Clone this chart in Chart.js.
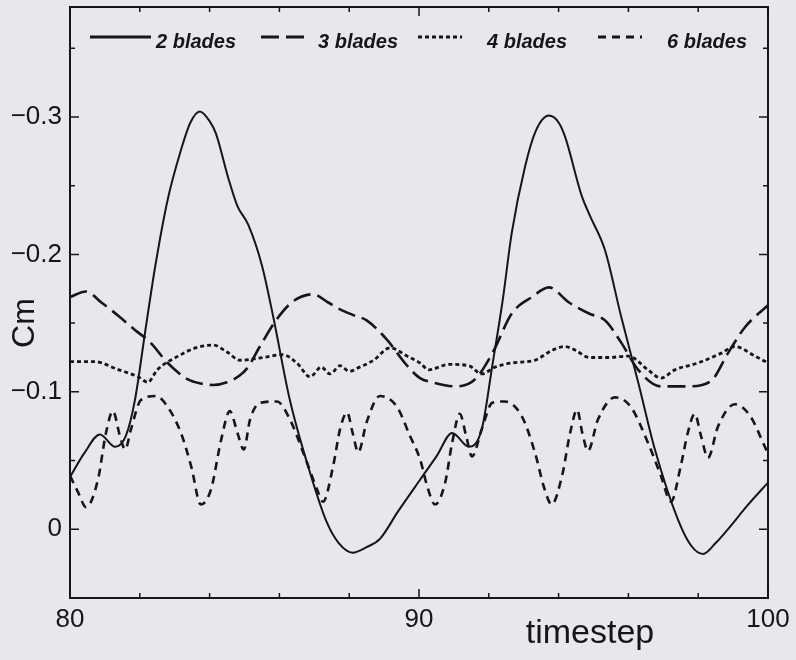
<!DOCTYPE html>
<html>
<head>
<meta charset="utf-8">
<script src="https://cdn.jsdelivr.net/npm/chart.js@4.4.1/dist/chart.umd.min.js"></script>
<style>
  html, body { margin: 0; padding: 0; background: #e6e8ec; }
  #wrap { width: 796px; height: 660px; position: relative; }
</style>
</head>
<body>
<div id="wrap"><canvas id="cmChart"></canvas></div>
<script>
// values (Cm vs timestep)
const seriesLabels = ['2 blades', '3 blades', '4 blades', '6 blades'];

const blades2X = [80.0, 80.4, 80.86, 81.29, 81.6, 81.86, 82.15, 82.44, 82.8, 83.18, 83.45, 83.72, 84.0, 84.18, 84.53, 84.8, 85.1, 85.5, 85.82, 86.3, 86.88, 87.36, 87.7, 88.1, 88.5, 88.88, 89.4, 90.03, 90.5, 90.95, 91.43, 91.8, 92.1, 92.4, 92.66, 93.04, 93.35, 93.72, 94.0, 94.18, 94.67, 94.9, 95.33, 95.79, 96.28, 96.76, 97.42, 97.8, 98.14, 98.5, 98.85, 99.4, 100.0];
const blades2Y = [-0.038, -0.055, -0.069, -0.060, -0.068, -0.094, -0.143, -0.191, -0.240, -0.276, -0.296, -0.304, -0.297, -0.288, -0.256, -0.235, -0.222, -0.192, -0.155, -0.094, -0.041, -0.005, 0.010, 0.017, 0.013, 0.007, -0.013, -0.036, -0.053, -0.070, -0.060, -0.073, -0.119, -0.167, -0.216, -0.264, -0.290, -0.301, -0.296, -0.286, -0.242, -0.228, -0.203, -0.155, -0.107, -0.058, -0.007, 0.012, 0.018, 0.010, 0.000, -0.017, -0.034];

const blades3X = [80.0, 80.46, 80.9, 81.4, 81.86, 82.3, 82.8, 83.38, 83.75, 84.1, 84.5, 84.87, 85.1, 85.44, 85.93, 86.4, 86.96, 87.4, 87.74, 88.1, 88.5, 89.08, 89.66, 90.03, 90.37, 91.03, 91.6, 92.1, 92.66, 93.24, 93.72, 94.3, 94.87, 95.33, 95.79, 96.28, 96.93, 97.7, 98.37, 98.85, 99.34, 100.0];
const blades3Y = [-0.169, -0.173, -0.165, -0.155, -0.145, -0.136, -0.121, -0.109, -0.106, -0.105, -0.107, -0.112, -0.118, -0.133, -0.153, -0.166, -0.171, -0.165, -0.160, -0.156, -0.152, -0.138, -0.119, -0.110, -0.107, -0.104, -0.109, -0.128, -0.157, -0.169, -0.176, -0.165, -0.157, -0.152, -0.136, -0.116, -0.104, -0.104, -0.108, -0.128, -0.147, -0.163];

const blades4X = [80.0, 80.7, 81.4, 81.95, 82.23, 82.5, 83.1, 83.6, 84.1, 84.5, 84.87, 85.53, 86.1, 86.5, 86.88, 87.2, 87.45, 87.74, 88.0, 88.3, 88.7, 89.17, 89.66, 90.03, 90.28, 90.86, 91.43, 91.8, 92.18, 92.66, 93.32, 93.8, 94.18, 94.5, 94.87, 95.42, 96.0, 96.56, 96.93, 97.33, 97.99, 98.65, 99.05, 99.63, 100.0];
const blades4Y = [-0.122, -0.122, -0.116, -0.111, -0.107, -0.116, -0.126, -0.132, -0.134, -0.129, -0.123, -0.125, -0.127, -0.121, -0.111, -0.118, -0.113, -0.119, -0.115, -0.118, -0.123, -0.132, -0.126, -0.121, -0.116, -0.120, -0.119, -0.113, -0.118, -0.121, -0.123, -0.130, -0.133, -0.130, -0.125, -0.125, -0.126, -0.116, -0.110, -0.116, -0.121, -0.128, -0.133, -0.126, -0.121];

const blades6X = [80.0, 80.23, 80.46, 80.8, 81.03, 81.23, 81.43, 81.58, 81.75, 82.03, 82.46, 82.8, 83.18, 83.47, 83.75, 84.04, 84.33, 84.58, 84.8, 84.98, 85.16, 85.44, 85.93, 86.3, 86.68, 87.08, 87.25, 87.54, 87.74, 87.94, 88.1, 88.26, 88.5, 88.88, 89.37, 89.74, 90.03, 90.25, 90.46, 90.75, 90.95, 91.17, 91.35, 91.52, 91.8, 92.1, 92.46, 92.95, 93.32, 93.6, 93.8, 94.1, 94.33, 94.53, 94.68, 94.84, 95.13, 95.62, 96.07, 96.56, 96.93, 97.22, 97.5, 97.7, 97.9, 98.08, 98.28, 98.57, 99.05, 99.5, 99.91, 100.0];
const blades6Y = [-0.039, -0.027, -0.016, -0.036, -0.070, -0.086, -0.068, -0.058, -0.073, -0.094, -0.097, -0.089, -0.070, -0.046, -0.018, -0.029, -0.065, -0.086, -0.070, -0.058, -0.080, -0.092, -0.093, -0.080, -0.056, -0.029, -0.020, -0.046, -0.073, -0.085, -0.070, -0.056, -0.078, -0.097, -0.089, -0.068, -0.051, -0.030, -0.018, -0.034, -0.063, -0.084, -0.068, -0.053, -0.073, -0.092, -0.093, -0.082, -0.056, -0.029, -0.018, -0.039, -0.070, -0.087, -0.070, -0.057, -0.080, -0.096, -0.089, -0.063, -0.039, -0.020, -0.046, -0.070, -0.084, -0.068, -0.052, -0.075, -0.091, -0.082, -0.060, -0.055];

const xLabelTicks = [80, 90, 100];
const yLabelTicks = [-0.3, -0.2, -0.1, 0];
const xMinorStep = 2;
const yMinorStep = 0.05;

const ink = '#161616';
const font = '"Liberation Sans", Arial, sans-serif';

function pts(xs, ys) {
  return xs.map((x, i) => ({ x: x, y: ys[i] }));
}

function isStep(v, step) {
  return Math.abs(v / step - Math.round(v / step)) < 1e-6;
}

// frame, inward ticks, legend inside the plot, axis titles
const decor = {
  id: 'decor',
  beforeDraw(chart) {
    const c = chart.ctx;
    c.save();
    c.fillStyle = '#e6e8ec';
    c.fillRect(0, 0, chart.width, chart.height);
    c.restore();
  },
  afterDatasetsDraw(chart) {
    const c = chart.ctx;
    const a = chart.chartArea;
    const xs = chart.scales.x, ys = chart.scales.y;
    c.save();
    c.strokeStyle = ink;
    c.lineWidth = 2;
    c.strokeRect(a.left, a.top, a.right - a.left, a.bottom - a.top);

    c.lineWidth = 1.5;
    for (let k = Math.ceil(xs.min / xMinorStep); k * xMinorStep <= xs.max + 1e-9; k++) {
      const v = k * xMinorStep;
      const px = xs.getPixelForValue(v);
      const len = isStep(v, 10) ? 9 : 5;
      c.beginPath();
      c.moveTo(px, a.bottom); c.lineTo(px, a.bottom - len);
      c.moveTo(px, a.top); c.lineTo(px, a.top + len);
      c.stroke();
    }
    for (let k = Math.ceil(ys.min / yMinorStep - 1e-9); k * yMinorStep <= ys.max + 1e-9; k++) {
      const v = k * yMinorStep;
      const py = ys.getPixelForValue(v);
      const len = isStep(v, 0.1) ? 9 : 5;
      c.beginPath();
      c.moveTo(a.left, py); c.lineTo(a.left + len, py);
      c.moveTo(a.right, py); c.lineTo(a.right - len, py);
      c.stroke();
    }

    // legend
    const items = [
      { sx: 20, ex: 81, tx: 86 },
      { sx: 191, ex: 238, tx: 248 },
      { sx: 348, ex: 392, tx: 417 },
      { sx: 528, ex: 572, tx: 597 }
    ];
    const ly = a.top + 30;
    c.font = 'italic bold 20px ' + font;
    c.textBaseline = 'middle';
    c.fillStyle = ink;
    chart.data.datasets.forEach((ds, i) => {
      const it = items[i];
      c.beginPath();
      c.lineWidth = 3;
      c.setLineDash(ds.borderDash || []);
      c.moveTo(a.left + it.sx, ly);
      c.lineTo(a.left + it.ex, ly);
      c.stroke();
      c.setLineDash([]);
      c.fillText(ds.label, a.left + it.tx, ly + 5);
    });

    // axis titles
    c.font = '34px ' + font;
    c.textAlign = 'center';
    c.textBaseline = 'alphabetic';
    c.fillText('timestep', 590, 643);
    c.save();
    c.translate(34, 323);
    c.rotate(-Math.PI / 2);
    c.font = '32px ' + font;
    c.fillText('Cm', 0, 0);
    c.restore();
    c.restore();
  }
};

const common = { borderColor: ink, pointRadius: 0, fill: false, cubicInterpolationMode: 'monotone' };

new Chart(document.getElementById('cmChart').getContext('2d'), {
  type: 'line',
  data: {
    datasets: [
      Object.assign({ label: seriesLabels[0], data: pts(blades2X, blades2Y), borderWidth: 2 }, common),
      Object.assign({ label: seriesLabels[1], data: pts(blades3X, blades3Y), borderWidth: 2.6, borderDash: [18, 7] }, common),
      Object.assign({ label: seriesLabels[2], data: pts(blades4X, blades4Y), borderWidth: 2.8, borderDash: [4, 3] }, common),
      Object.assign({ label: seriesLabels[3], data: pts(blades6X, blades6Y), borderWidth: 2.6, borderDash: [8, 6] }, common)
    ]
  },
  options: {
    responsive: true,
    maintainAspectRatio: false,
    animation: false,
    devicePixelRatio: 1,
    layout: { padding: { top: 7, right: 28, left: 0, bottom: 0 } },
    plugins: { legend: { display: false }, tooltip: { enabled: false } },
    scales: {
      x: {
        type: 'linear',
        min: 80,
        max: 100,
        grid: { display: false, drawTicks: false },
        border: { display: false },
        afterFit: s => { s.height = 62; s.paddingLeft = 0; s.paddingRight = 0; },
        ticks: {
          stepSize: 2,
          padding: 6,
          color: ink,
          font: { family: font, size: 26 },
          maxRotation: 0,
          autoSkip: false,
          callback: v => xLabelTicks.includes(v) ? String(v) : null
        }
      },
      y: {
        type: 'linear',
        min: -0.38,
        max: 0.05,
        reverse: true,
        grid: { display: false, drawTicks: false },
        border: { display: false },
        afterFit: s => { s.width = 70; s.paddingTop = 0; s.paddingBottom = 0; },
        ticks: {
          stepSize: 0.05,
          padding: 8,
          color: ink,
          font: { family: font, size: 26 },
          autoSkip: false,
          callback: v => {
            const hit = yLabelTicks.find(t => Math.abs(t - v) < 1e-6);
            if (hit === undefined) return null;
            return hit === 0 ? '0' : '\u2212' + Math.abs(hit).toFixed(1);
          }
        }
      }
    }
  },
  plugins: [decor]
});
</script>
</body>
</html>
